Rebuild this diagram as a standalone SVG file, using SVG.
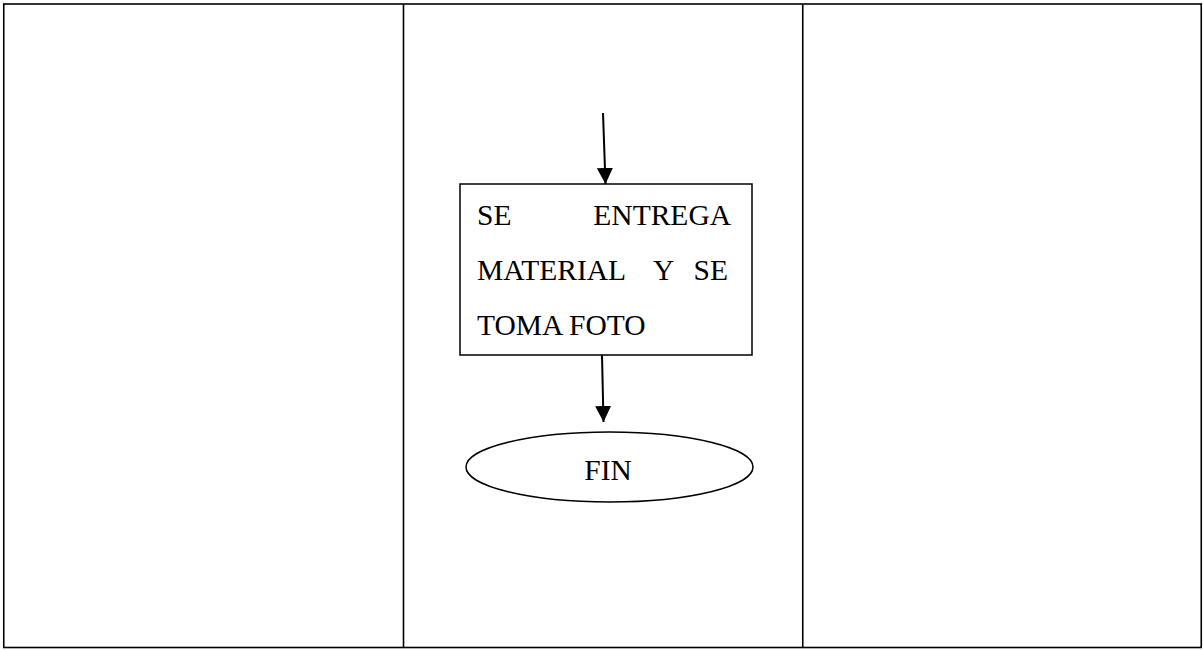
<svg xmlns="http://www.w3.org/2000/svg" width="1203" height="650" viewBox="0 0 1203 650">
<style>
.frame{fill:none;stroke:#000;stroke-width:1.6}
.shape{fill:#fff;stroke:#000;stroke-width:1.5}
.conn{fill:none;stroke:#000;stroke-width:2}
.t{font-family:"Liberation Serif","DejaVu Serif",serif;font-size:29.5px;fill:#000}
</style>
<defs>
<marker id="ah" markerUnits="userSpaceOnUse" markerWidth="16" markerHeight="16" viewBox="0 0 16 16" refX="16" refY="8" orient="auto">
<path d="M0,0 L16,8 L0,16 Z" fill="#000"/>
</marker>
</defs>
<g id="table">
<rect class="frame" x="3.75" y="4" width="1197.5" height="643.5"/>
<line class="frame" x1="403.5" y1="4" x2="403.5" y2="647.5"/>
<line class="frame" x1="802.75" y1="4" x2="802.75" y2="647.5"/>
</g>
<g id="connectors">
<line class="conn" x1="603" y1="113" x2="605.5" y2="184" marker-end="url(#ah)"/>
<line class="conn" x1="602" y1="355" x2="603.5" y2="422" marker-end="url(#ah)"/>
</g>
<g id="node-entrega">
<rect class="shape" x="460" y="184" width="292" height="171"/>
<text class="t" y="225"><tspan x="477">SE</tspan><tspan x="731" text-anchor="end">ENTREGA</tspan></text>
<text class="t" y="280"><tspan x="477">MATERIAL</tspan><tspan x="653">Y</tspan><tspan x="728" text-anchor="end">SE</tspan></text>
<text class="t" x="477" y="335">TOMA FOTO</text>
</g>
<g id="node-fin">
<ellipse class="shape" cx="609.5" cy="467" rx="143.5" ry="35"/>
<text class="t" x="608" y="480" text-anchor="middle">FIN</text>
</g>
</svg>
